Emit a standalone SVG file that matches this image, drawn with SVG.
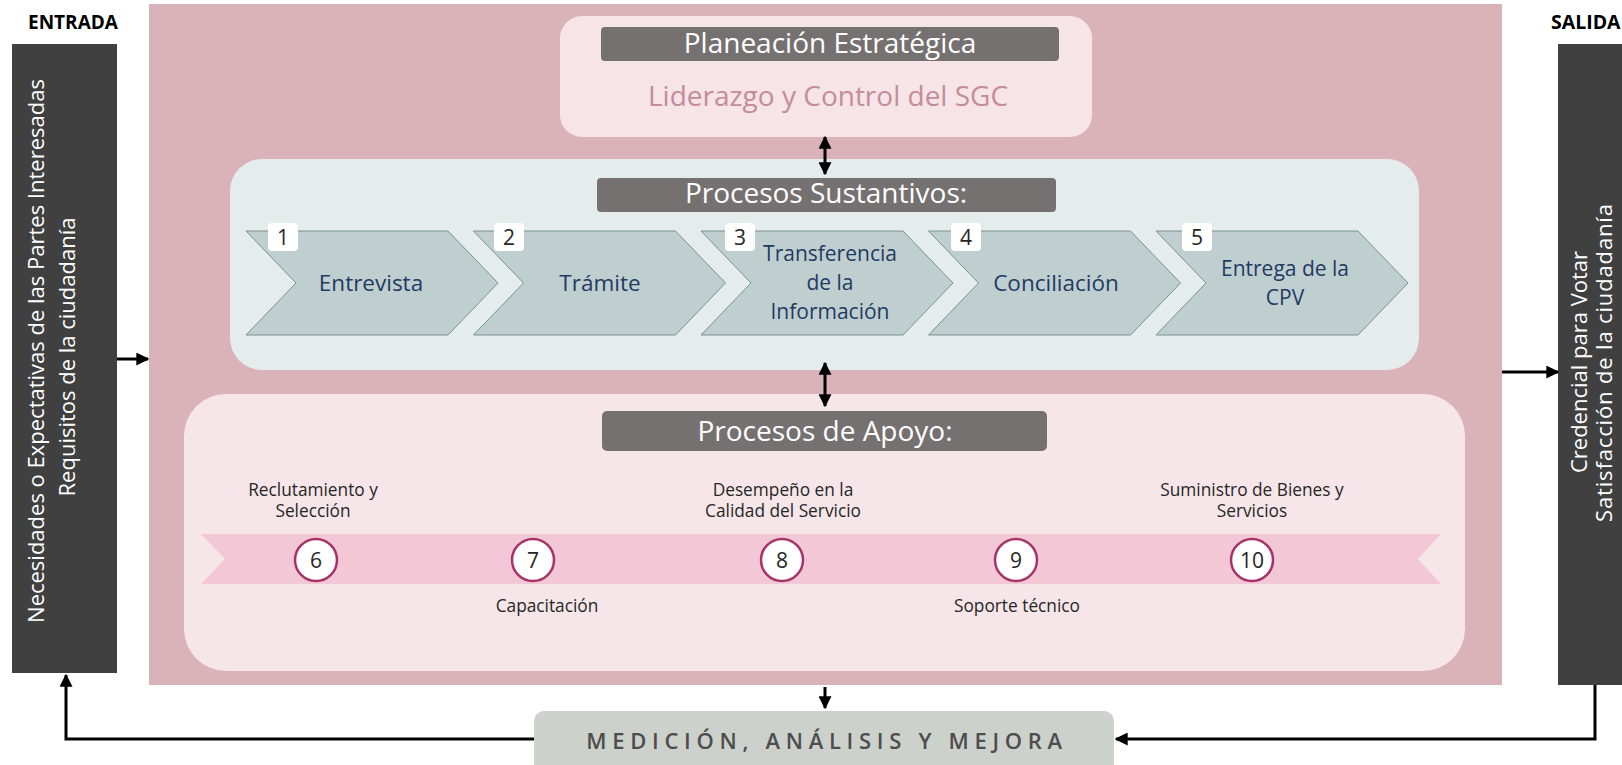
<svg xmlns="http://www.w3.org/2000/svg" width="1622" height="765" viewBox="0 0 1622 765">
<defs>
<style>
.t{font-family:"Open Sans","Liberation Sans",sans-serif}
.hdr{fill:#767171}
.htx{font-family:"Open Sans","Liberation Sans",sans-serif;font-size:28px;fill:#ffffff;text-anchor:middle}
.chev{fill:#bfcfcf;stroke:#7d8f8f;stroke-width:1}
.ctx{font-family:"Open Sans","Liberation Sans",sans-serif;font-size:22.5px;fill:#1f3a63;text-anchor:middle}
.ctm{font-family:"Open Sans","Liberation Sans",sans-serif;font-size:21px;fill:#1f3a63;text-anchor:middle}
.nb{fill:#ffffff}
.ntx{font-family:"Open Sans","Liberation Sans",sans-serif;font-size:21px;fill:#262626;text-anchor:middle}
.circ{fill:#ffffff;stroke:#a8326a;stroke-width:2.5}
.small{font-family:"Open Sans","Liberation Sans",sans-serif;font-size:17.3px;fill:#262626;text-anchor:middle}
.side{font-family:"Open Sans","Liberation Sans",sans-serif;font-size:22px;fill:#ffffff;text-anchor:middle}
.ln{fill:none;stroke:#000000;stroke-width:3}
</style>
<marker id="ah" viewBox="0 0 10 10" refX="9" refY="5" markerWidth="13" markerHeight="13" markerUnits="userSpaceOnUse" orient="auto-start-reverse">
<path d="M0,0 L10,5 L0,10 z" fill="#000000"/>
</marker>
</defs>
<rect width="1622" height="765" fill="#ffffff"/>

<g id="main-frame">
<rect x="149" y="4" width="1353" height="681" fill="#d9b2ba"/>
</g>

<g id="entrada">
<text class="t" x="73" y="29" font-size="19" font-weight="bold" fill="#000" text-anchor="middle">ENTRADA</text>
<rect x="12" y="44" width="105" height="629" fill="#404040"/>
<text class="side" transform="translate(44,351) rotate(-90)">Necesidades o Expectativas de las Partes Interesadas</text>
<text class="side" transform="translate(75,357) rotate(-90)">Requisitos de la ciudadanía</text>
</g>

<g id="salida">
<text class="t" x="1551" y="29" font-size="19.5" font-weight="bold" fill="#000">SALIDA</text>
<rect x="1558" y="44" width="70" height="641" fill="#404040"/>
<text class="side" transform="translate(1587,362) rotate(-90)">Credencial para Votar</text>
<text class="side" transform="translate(1612,363) rotate(-90)" textLength="318" lengthAdjust="spacing">Satisfacción de la ciudadanía</text>
</g>

<g id="planeacion">
<rect x="560" y="16" width="532" height="121" rx="22" fill="#f6e4e7"/>
<rect class="hdr" x="601" y="27" width="458" height="34" rx="4"/>
<text class="htx" x="830" y="53">Planeación Estratégica</text>
<text class="t" x="828" y="106" font-size="28" fill="#c48c9b" text-anchor="middle">Liderazgo y Control del SGC</text>
</g>

<g id="sustantivos">
<rect x="230" y="159" width="1189" height="211" rx="32" fill="#e4ecec"/>
<rect class="hdr" x="597" y="178" width="459" height="34" rx="4"/>
<text class="htx" x="826" y="203">Procesos Sustantivos:</text>
</g>

<g id="p1">
<polygon class="chev" points="246,231 448,231 498,283 448,335 246,335 296,283"/>
<rect class="nb" x="268" y="223" width="30" height="28" rx="4"/>
<text class="ntx" x="283" y="245">1</text>
<text class="ctx" x="371" y="291">Entrevista</text>
</g>
<g id="p2">
<polygon class="chev" points="473.5,231 675.5,231 725.5,283 675.5,335 473.5,335 523.5,283"/>
<rect class="nb" x="494" y="223" width="30" height="28" rx="4"/>
<text class="ntx" x="509" y="245">2</text>
<text class="ctx" x="600" y="291">Trámite</text>
</g>
<g id="p3">
<polygon class="chev" points="701,231 903,231 953,283 903,335 701,335 751,283"/>
<rect class="nb" x="725" y="223" width="30" height="28" rx="4"/>
<text class="ntx" x="740" y="245">3</text>
<text class="ctm" x="830" y="261">Transferencia</text>
<text class="ctm" x="830" y="290">de la</text>
<text class="ctm" x="830" y="319">Información</text>
</g>
<g id="p4">
<polygon class="chev" points="928.5,231 1130.5,231 1180.5,283 1130.5,335 928.5,335 978.5,283"/>
<rect class="nb" x="951" y="223" width="30" height="28" rx="4"/>
<text class="ntx" x="966" y="245">4</text>
<text class="ctx" x="1056" y="291">Conciliación</text>
</g>
<g id="p5">
<polygon class="chev" points="1156,231 1358,231 1408,283 1358,335 1156,335 1206,283"/>
<rect class="nb" x="1182" y="223" width="30" height="28" rx="4"/>
<text class="ntx" x="1197" y="245">5</text>
<text class="ctm" x="1285" y="276">Entrega de la</text>
<text class="ctm" x="1285" y="305">CPV</text>
</g>

<g id="apoyo">
<rect x="184" y="394" width="1281" height="277" rx="42" fill="#f6e6e9"/>
<rect class="hdr" x="602" y="411" width="445" height="40" rx="5"/>
<text class="htx" x="825" y="441">Procesos de Apoyo:</text>
<polygon points="201,534 1441,534 1418,559 1441,584 201,584 225,559" fill="#f2c8d7"/>
</g>

<g id="s6">
<text class="small" x="313" y="496">Reclutamiento y</text>
<text class="small" x="313" y="517">Selección</text>
<circle class="circ" cx="316" cy="560" r="21"/>
<text class="ntx" x="316" y="568">6</text>
</g>
<g id="s7">
<circle class="circ" cx="533" cy="560" r="21"/>
<text class="ntx" x="533" y="568">7</text>
<text class="small" x="547" y="612">Capacitación</text>
</g>
<g id="s8">
<text class="small" x="783" y="496">Desempeño en la</text>
<text class="small" x="783" y="517">Calidad del Servicio</text>
<circle class="circ" cx="782" cy="560" r="21"/>
<text class="ntx" x="782" y="568">8</text>
</g>
<g id="s9">
<circle class="circ" cx="1016" cy="560" r="21"/>
<text class="ntx" x="1016" y="568">9</text>
<text class="small" x="1017" y="612">Soporte técnico</text>
</g>
<g id="s10">
<text class="small" x="1252" y="496">Suministro de Bienes y</text>
<text class="small" x="1252" y="517">Servicios</text>
<circle class="circ" cx="1252" cy="560" r="21"/>
<text class="ntx" x="1252" y="568">10</text>
</g>

<g id="medicion">
<rect x="534" y="711" width="580" height="70" rx="10" fill="#cdd1cc"/>
<text class="t" x="827" y="749" font-size="22" font-weight="600" fill="#4d4d4d" text-anchor="middle" letter-spacing="5.7">MEDICIÓN, ANÁLISIS Y MEJORA</text>
</g>

<g id="connectors">
<line class="ln" x1="825" y1="137" x2="825" y2="174" marker-start="url(#ah)" marker-end="url(#ah)"/>
<line class="ln" x1="825" y1="363" x2="825" y2="406" marker-start="url(#ah)" marker-end="url(#ah)"/>
<line class="ln" x1="825" y1="687" x2="825" y2="708" marker-end="url(#ah)"/>
<line class="ln" x1="117" y1="359" x2="148" y2="359" marker-end="url(#ah)"/>
<line class="ln" x1="1502" y1="372" x2="1558" y2="372" marker-end="url(#ah)"/>
<polyline class="ln" points="534,739 66,739 66,675" marker-end="url(#ah)"/>
<polyline class="ln" points="1595,685 1595,739 1116,739" marker-end="url(#ah)"/>
</g>
</svg>
